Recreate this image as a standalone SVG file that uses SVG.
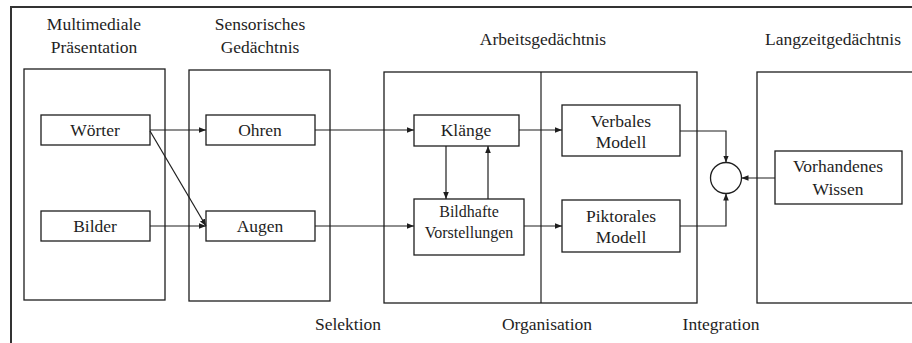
<svg xmlns="http://www.w3.org/2000/svg" width="912" height="343" viewBox="0 0 912 343">
<style>
.f{fill:#fff;stroke:#1e1e1e;stroke-width:1.3}
.c{fill:none;stroke:#1e1e1e;stroke-width:1.2}
text{font-family:"Liberation Serif","Times New Roman",serif;font-size:17.5px;fill:#1e1e1e;text-anchor:middle}
.s{font-size:16px}
</style>
<defs>
<marker id="a" viewBox="0 0 10 10" refX="10" refY="5" markerWidth="7" markerHeight="7" orient="auto" markerUnits="userSpaceOnUse"><path d="M0,1 L10,5 L0,9 Z" fill="#1e1e1e"/></marker>
</defs>
<rect width="912" height="343" fill="#fff"/>
<path d="M11,343 V7 H912" fill="none" stroke="#333" stroke-width="2"/>
<g id="multimedia"><rect class="f" x="24" y="69" width="141" height="231"/><text x="94" y="30">Multimediale</text><text x="94" y="53">Präsentation</text></g>
<g id="sensorisch"><rect class="f" x="189" y="70" width="141" height="231"/><text x="260" y="30">Sensorisches</text><text x="260" y="53">Gedächtnis</text></g>
<g id="arbeit"><rect class="f" x="384" y="72" width="313" height="231"/><line class="c" x1="541" y1="72" x2="541" y2="303"/><text x="543" y="45">Arbeitsgedächtnis</text></g>
<g id="langzeit"><rect class="f" x="757" y="72" width="170" height="231"/><text x="833" y="45">Langzeitgedächtnis</text></g>
<g id="woerter"><rect class="f" x="41" y="115" width="109" height="30"/><text x="95" y="136">Wörter</text></g>
<g id="bilder"><rect class="f" x="41" y="211" width="109" height="30"/><text x="95" y="232">Bilder</text></g>
<g id="ohren"><rect class="f" x="206" y="115" width="109" height="30"/><text x="260" y="136">Ohren</text></g>
<g id="augen"><rect class="f" x="206" y="211" width="109" height="30"/><text x="260" y="232">Augen</text></g>
<g id="klaenge"><rect class="f" x="414" y="115" width="105" height="31"/><text x="466" y="136">Klänge</text></g>
<g id="bildhafte"><rect class="f" x="414" y="199" width="110" height="56"/><text class="s" x="469" y="217">Bildhafte</text><text class="s" x="469" y="238">Vorstellungen</text></g>
<g id="verbal"><rect class="f" x="562" y="105" width="118" height="51"/><text x="621" y="127">Verbales</text><text x="621" y="148">Modell</text></g>
<g id="piktoral"><rect class="f" x="562" y="200" width="118" height="52"/><text x="621" y="222">Piktorales</text><text x="621" y="243">Modell</text></g>
<g id="wissen"><rect class="f" x="775" y="151" width="127" height="53"/><text x="838" y="172">Vorhandenes</text><text x="838" y="195">Wissen</text></g>
<g id="integration-node"><circle class="f" cx="726" cy="178" r="15.5"/></g>
<g id="connectors" class="c">
<line class="c" x1="150" y1="130" x2="206" y2="130" marker-end="url(#a)"/>
<line class="c" x1="150" y1="131" x2="206" y2="226" marker-end="url(#a)"/>
<line class="c" x1="150" y1="226" x2="206" y2="226" marker-end="url(#a)"/>
<line class="c" x1="315" y1="130" x2="414" y2="130" marker-end="url(#a)"/>
<line class="c" x1="315" y1="226" x2="414" y2="226" marker-end="url(#a)"/>
<line class="c" x1="446" y1="146" x2="446" y2="199" marker-end="url(#a)"/>
<line class="c" x1="488" y1="199" x2="488" y2="146" marker-end="url(#a)"/>
<line class="c" x1="519" y1="130" x2="562" y2="130" marker-end="url(#a)"/>
<line class="c" x1="524" y1="226" x2="562" y2="226" marker-end="url(#a)"/>
<path class="c" d="M680,131 H726 V162.5" marker-end="url(#a)"/>
<path class="c" d="M680,226 H726 V193.5" marker-end="url(#a)"/>
<line class="c" x1="775" y1="178" x2="741.5" y2="178" marker-end="url(#a)"/>
</g>
<g id="labels"><text x="348" y="330">Selektion</text><text x="547" y="330">Organisation</text><text x="721" y="330">Integration</text></g>
</svg>
